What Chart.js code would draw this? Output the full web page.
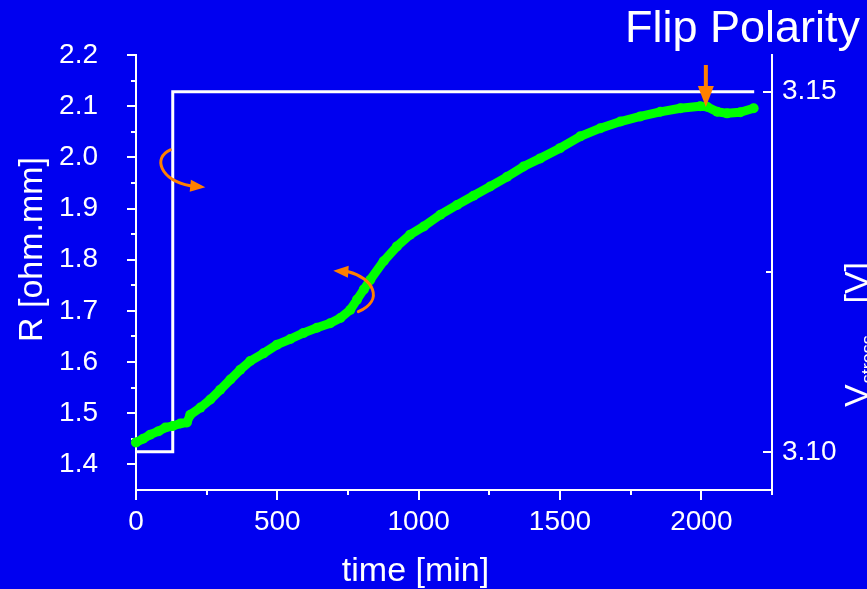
<!DOCTYPE html>
<html>
<head>
<meta charset="utf-8">
<title>R and V stress vs time</title>
<script src="https://cdn.jsdelivr.net/npm/chart.js@4.4.1/dist/chart.umd.min.js"></script>
<style>
  html, body { margin: 0; padding: 0; background: #0000F0; overflow: hidden; }
  #wrap { width: 867px; height: 589px; position: relative; }
</style>
</head>
<body>
<div id="wrap"><canvas id="chart"></canvas></div>
<script>
// Resistance (left axis) and stress voltage (right axis) against time

// green trace, R [ohm.mm]
const timeMin = [0, 25, 50, 80, 104, 130, 157, 180, 192, 228, 263, 298, 334, 369, 404, 451, 499, 546, 593, 640,
  687, 723, 758, 782, 806, 829, 876, 923, 970, 1018, 1077, 1136, 1194, 1253, 1313, 1371, 1430, 1500, 1572, 1643,
  1714, 1784, 1855, 1926, 1996, 2020, 2056, 2091, 2138, 2185];
const resistance = [1.443, 1.450, 1.458, 1.465, 1.472, 1.475, 1.480, 1.482, 1.497, 1.511, 1.527, 1.546, 1.566, 1.585, 1.602, 1.617, 1.634, 1.645, 1.657, 1.667,
  1.676, 1.686, 1.702, 1.722, 1.742, 1.761, 1.797, 1.826, 1.849, 1.865, 1.888, 1.907, 1.925, 1.943, 1.962, 1.982, 1.998, 2.018, 2.041, 2.057,
  2.070, 2.080, 2.089, 2.096, 2.100, 2.099, 2.089, 2.086, 2.088, 2.096];

// white step, V stress [V]
const stepTime = [0, 130, 130, 2187];
const stepVolt = [3.10, 3.10, 3.15, 3.15];

// tick values
const xTickValues = [0, 500, 1000, 1500, 2000];
const xMinorValues = [250, 750, 1250, 1750, 2250];
const rTickValues = [1.4, 1.5, 1.6, 1.7, 1.8, 1.9, 2.0, 2.1, 2.2];
const rMinorValues = [1.45, 1.55, 1.65, 1.75, 1.85, 1.95, 2.05, 2.15];
const vTickValues = [3.10, 3.15];
const vMinorValues = [3.125];

// orange arrows, in data units (time, R)
const curvedArrows = [
  { path: [[121.4, 2.0146], [57.7, 1.999], [86.0, 1.9561], [192.1, 1.9444]], tip: [245.2, 1.9415] },
  { path: [[786.5, 1.6985], [882.0, 1.7220], [836.0, 1.7649], [751.1, 1.7766]], tip: [698.0, 1.7785] }
];
const flipArrow = { from: [2016, 2.1805], base: [2016, 2.1395], tip: [2016, 2.0985] };

const FONT = "'Liberation Sans', Arial, sans-serif";
const WHITE = '#FFFFFF';
const ORANGE = '#FF8000';

function fixedTicks(values) {
  return scale => { scale.ticks = values.map(v => ({ value: v })); };
}

function drawHead(ctx, base, tip, half) {
  const dx = tip[0] - base[0], dy = tip[1] - base[1];
  const len = Math.hypot(dx, dy) || 1;
  const nx = -dy / len * half, ny = dx / len * half;
  ctx.beginPath();
  ctx.moveTo(tip[0], tip[1]);
  ctx.lineTo(base[0] + nx, base[1] + ny);
  ctx.lineTo(base[0] - nx, base[1] - ny);
  ctx.closePath();
  ctx.fill();
}

const overlay = {
  id: 'overlay',
  beforeDraw(chart) {
    const ctx = chart.ctx;
    ctx.save();
    ctx.fillStyle = '#0000F0';
    ctx.fillRect(0, 0, chart.width, chart.height);
    ctx.restore();
  },
  afterDatasetsDraw(chart) {
    const { ctx, scales: { x, y } } = chart;
    const px = p => [x.getPixelForValue(p[0]), y.getPixelForValue(p[1])];
    ctx.save();
    ctx.strokeStyle = ORANGE;
    ctx.fillStyle = ORANGE;
    ctx.lineCap = 'round';
    ctx.lineWidth = 3;
    curvedArrows.forEach(a => {
      const p = a.path.map(px);
      ctx.beginPath();
      ctx.moveTo(p[0][0], p[0][1]);
      ctx.bezierCurveTo(p[1][0], p[1][1], p[2][0], p[2][1], p[3][0], p[3][1]);
      ctx.stroke();
      drawHead(ctx, p[3], px(a.tip), 6);
    });
    // flip polarity marker
    const f0 = px(flipArrow.from), fb = px(flipArrow.base), ft = px(flipArrow.tip);
    ctx.lineWidth = 4;
    ctx.lineCap = 'butt';
    ctx.beginPath();
    ctx.moveTo(f0[0], f0[1]);
    ctx.lineTo(fb[0], fb[1] + 2);
    ctx.stroke();
    drawHead(ctx, fb, ft, 8);
    ctx.restore();
  },
  afterDraw(chart) {
    const ctx = chart.ctx;
    ctx.save();
    ctx.fillStyle = WHITE;

    ctx.font = '45px ' + FONT;
    ctx.textAlign = 'right';
    ctx.textBaseline = 'alphabetic';
    ctx.fillText('Flip Polarity', 860, 42);

    ctx.font = '34px ' + FONT;
    ctx.textAlign = 'center';
    ctx.fillText('time [min]', 415.5, 581);

    ctx.save();
    ctx.translate(42, 249.5);
    ctx.rotate(-Math.PI / 2);
    ctx.fillText('R [ohm.mm]', 0, 0);
    ctx.restore();

    ctx.save();
    ctx.translate(868, 407);
    ctx.rotate(-Math.PI / 2);
    ctx.textAlign = 'left';
    ctx.font = '34px ' + FONT;
    ctx.fillText('V', 0, 0);
    const vw = ctx.measureText('V').width;
    ctx.font = '18px ' + FONT;
    ctx.fillText('stress', vw + 1, 6);
    ctx.font = '34px ' + FONT;
    ctx.textAlign = 'right';
    ctx.fillText('[V]', 145, 0);
    ctx.restore();

    ctx.restore();
  }
};

function tickFont() { return { family: FONT, size: 28 }; }

new Chart(document.getElementById('chart'), {
  type: 'line',
  data: {
    datasets: [
      {
        label: 'R',
        data: timeMin.map((t, i) => ({ x: t, y: resistance[i] })),
        xAxisID: 'x',
        yAxisID: 'y',
        borderColor: '#00FF00',
        backgroundColor: '#00FF00',
        borderWidth: 9,
        borderJoinStyle: 'round',
        borderCapStyle: 'round',
        pointRadius: 5,
        pointBorderWidth: 0,
        tension: 0,
        clip: false,
        order: 0
      },
      {
        label: 'V stress',
        data: stepTime.map((t, i) => ({ x: t, y: stepVolt[i] })),
        xAxisID: 'x',
        yAxisID: 'y2',
        borderColor: WHITE,
        borderWidth: 3,
        pointRadius: 0,
        tension: 0,
        clip: false,
        order: 1
      }
    ]
  },
  options: {
    responsive: true,
    maintainAspectRatio: false,
    animation: false,
    devicePixelRatio: 1,
    events: [],
    layout: { padding: { top: 55, left: 0, right: 0, bottom: 0 } },
    plugins: { legend: { display: false }, tooltip: { enabled: false } },
    scales: {
      x: {
        type: 'linear', axis: 'x', position: 'bottom', weight: 1,
        min: 0, max: 2250,
        afterBuildTicks: fixedTicks(xTickValues),
        afterFit: s => { s.height = 99; },
        ticks: { color: WHITE, font: tickFont(), padding: 5, maxRotation: 0, autoSkip: false, callback: v => String(v) },
        grid: { drawOnChartArea: false, color: WHITE, lineWidth: 2, tickLength: 10 },
        border: { color: WHITE, width: 2 }
      },
      xMinor: {
        type: 'linear', axis: 'x', position: 'bottom', weight: 0,
        min: 0, max: 2250,
        afterBuildTicks: fixedTicks(xMinorValues),
        afterFit: s => { s.height = 0; },
        ticks: { display: false },
        grid: { drawOnChartArea: false, color: WHITE, lineWidth: 2, tickLength: 5 },
        border: { display: false }
      },
      y: {
        type: 'linear', axis: 'y', position: 'left', weight: 1,
        min: 1.35, max: 2.2,
        afterBuildTicks: fixedTicks(rTickValues),
        afterFit: s => { s.width = 136; },
        ticks: { color: WHITE, font: tickFont(), padding: 29, autoSkip: false, callback: v => v.toFixed(1) },
        grid: { drawOnChartArea: false, color: WHITE, lineWidth: 2, tickLength: 9 },
        border: { color: WHITE, width: 2 }
      },
      yMinor: {
        type: 'linear', axis: 'y', position: 'left', weight: 0,
        min: 1.35, max: 2.2,
        afterBuildTicks: fixedTicks(rMinorValues),
        afterFit: s => { s.width = 0; },
        ticks: { display: false },
        grid: { drawOnChartArea: false, color: WHITE, lineWidth: 2, tickLength: 5 },
        border: { display: false }
      },
      y2: {
        type: 'linear', axis: 'y', position: 'right', weight: 1,
        min: 3.0947, max: 3.1551,
        afterBuildTicks: fixedTicks(vTickValues),
        afterFit: s => { s.width = 95; },
        ticks: { color: WHITE, font: tickFont(), padding: 19, autoSkip: false, callback: v => v.toFixed(2) },
        grid: { drawOnChartArea: false, color: WHITE, lineWidth: 2, tickLength: -9 },
        border: { color: WHITE, width: 2 }
      },
      y2Minor: {
        type: 'linear', axis: 'y', position: 'right', weight: 0,
        min: 3.0947, max: 3.1551,
        afterBuildTicks: fixedTicks(vMinorValues),
        afterFit: s => { s.width = 0; },
        ticks: { display: false },
        grid: { drawOnChartArea: false, color: WHITE, lineWidth: 2, tickLength: -6 },
        border: { display: false }
      }
    }
  },
  plugins: [overlay]
});
</script>
</body>
</html>
